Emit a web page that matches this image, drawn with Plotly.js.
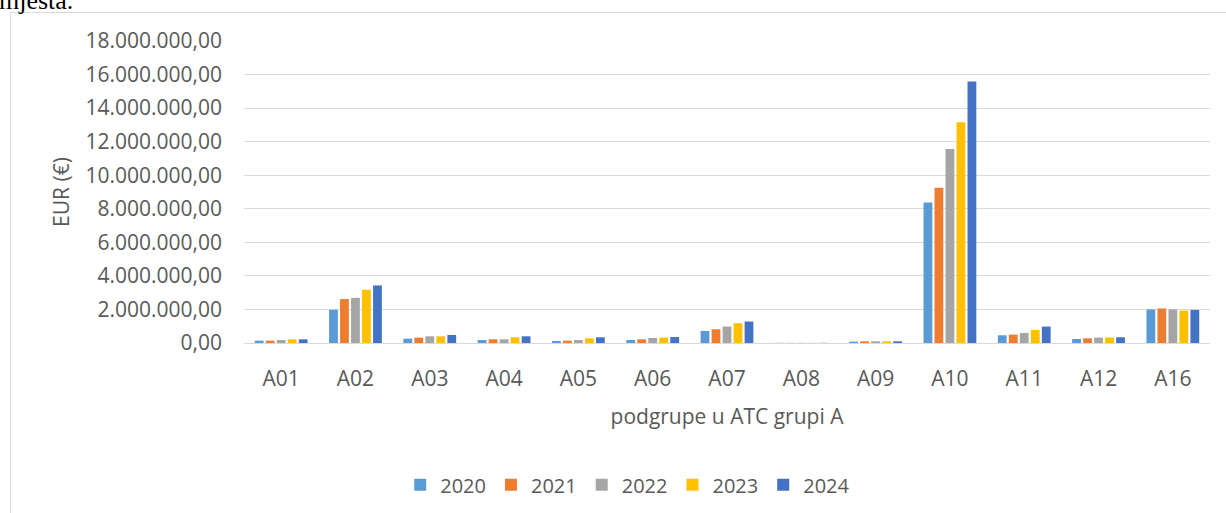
<!DOCTYPE html>
<html>
<head>
<meta charset="utf-8">
<script src="https://cdn.plot.ly/plotly-3.0.1.min.js"></script>
<style>
  html, body { margin: 0; padding: 0; background: #fff; overflow: hidden; }
  #frame { position: absolute; left: 10px; top: 12px; width: 1230px; height: 520px; border: 1px solid #d9d9d9; box-sizing: border-box; }
  #cut { position: absolute; left: -1px; top: -14px; font-family: "Liberation Serif", "DejaVu Serif", serif; font-size: 26px; color: #000; }
  #chart { position: absolute; left: 0; top: 0; width: 1226px; height: 513px; }
</style>
</head>
<body>
<div id="frame"></div>
<div id="cut">mjesta.</div>
<div id="chart"></div>
<script>
const categories = ["A01","A02","A03","A04","A05","A06","A07","A08","A09","A10","A11","A12","A16"];
const years = ["2020","2021","2022","2023","2024"];
const v2020 = [140000, 1980000, 260000, 180000, 120000, 180000, 720000, 10000, 80000, 8380000, 460000, 240000, 2000000];
const v2021 = [140000, 2620000, 320000, 220000, 140000, 220000, 820000, 10000, 100000, 9260000, 500000, 280000, 2060000];
const v2022 = [180000, 2690000, 400000, 220000, 180000, 300000, 980000, 10000, 100000, 11560000, 600000, 320000, 2000000];
const v2023 = [220000, 3170000, 400000, 340000, 280000, 320000, 1180000, 10000, 100000, 13150000, 780000, 320000, 1930000];
const v2024 = [220000, 3430000, 480000, 400000, 340000, 360000, 1280000, 10000, 100000, 15590000, 980000, 340000, 1970000];
const series = [v2020, v2021, v2022, v2023, v2024];
const colors = ["#5B9BD5", "#ED7D31", "#A5A5A5", "#FFC000", "#4472C4"];

const font = "Open Sans, Liberation Sans, Arial, sans-serif";
const fs = 21;
const traces = series.map((vals, i) => ({
  type: "bar",
  name: years[i],
  x: categories,
  y: vals,
  marker: { color: colors[i], line: { width: 0 } },
  hoverinfo: "x+y+name"
}));

const layout = {
  width: 1226, height: 513,
  paper_bgcolor: "rgba(0,0,0,0)",
  plot_bgcolor: "rgba(0,0,0,0)",
  margin: { l: 244, r: 16, t: 41, b: 170 },
  separators: ",.",
  barmode: "group",
  bargap: 0.26,
  bargroupgap: 0.2,
  font: { family: font, size: fs, color: "#595959" },
  xaxis: {
    type: "category",
    showgrid: false,
    showline: true, linecolor: "#d9d9d9", linewidth: 1,
    ticks: "", ticklabelstandoff: 17,
    tickfont: { size: fs, color: "#595959" },
    title: { text: "podgrupe u ATC grupi A", font: { size: fs, color: "#595959" }, standoff: 18 },
    automargin: false
  },
  yaxis: {
    range: [0, 18000000],
    tickvals: [0,2000000,4000000,6000000,8000000,10000000,12000000,14000000,16000000,18000000],
    tickformat: ",.2f",
    showgrid: true, gridcolor: "#d9d9d9", gridwidth: 1,
    zeroline: false, showline: false,
    ticks: "", ticklabelstandoff: 21,
    tickfont: { size: fs, color: "#595959" },
    title: { text: "EUR (€)", font: { size: fs, color: "#595959" }, standoff: 10 },
    automargin: false
  },
  legend: {
    orientation: "h",
    xref: "container", yref: "container",
    x: 0.512, xanchor: "center",
    y: 0.055, yanchor: "middle",
    font: { size: 20, color: "#595959" },
    itemwidth: 30,
    tracegroupgap: 0
  },
  showlegend: true
};

Plotly.newPlot("chart", traces, layout, { displayModeBar: false, staticPlot: true });
</script>
</body>
</html>
